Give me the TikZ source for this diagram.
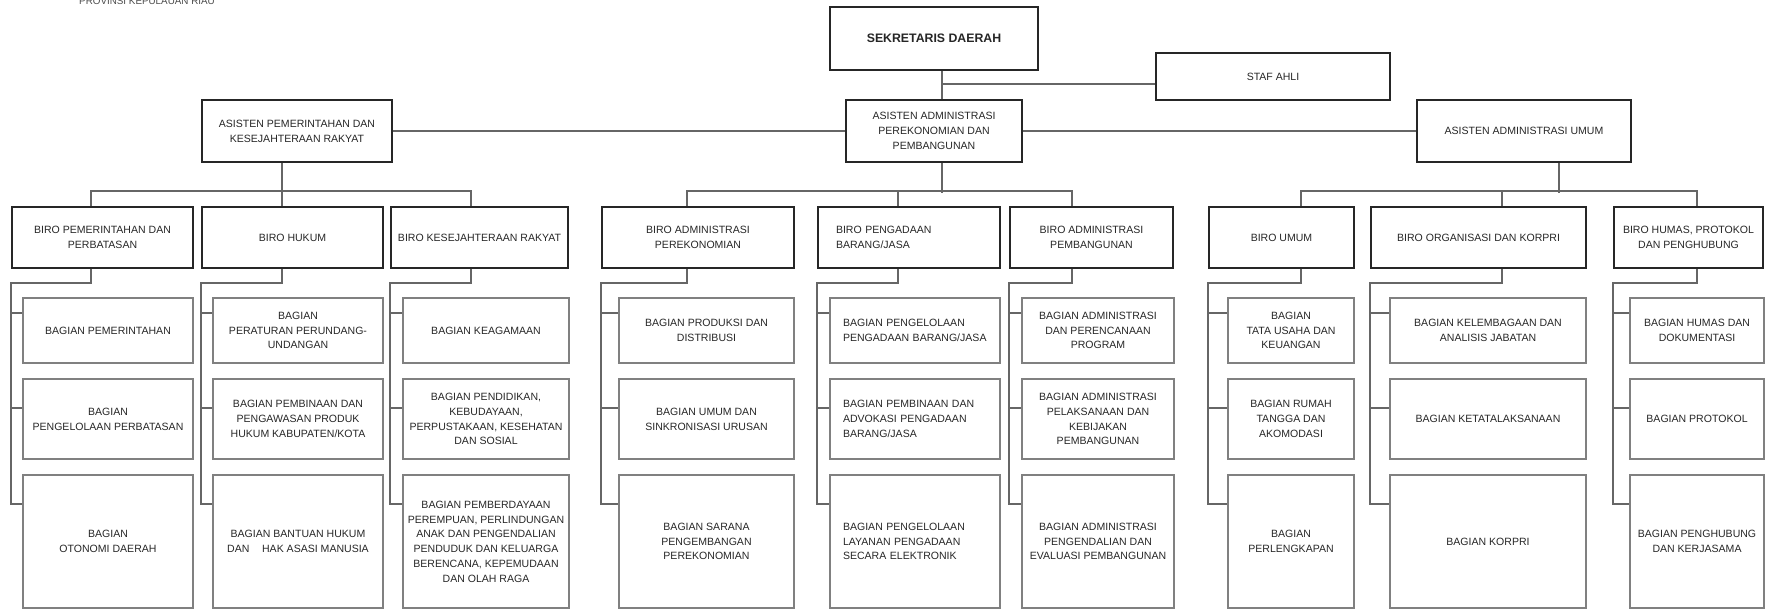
\documentclass[tikz,border=0pt]{standalone}
\usepackage{fontspec}
\setmainfont{Liberation Sans}
\usetikzlibrary{calc}

\begin{document}
\begin{tikzpicture}[x=0.02cm,y=-0.02cm,
  box/.style={draw=black!85,line width=1.1pt,inner sep=0pt,align=center,text=black!85,font=\fontsize{6}{8.4}\selectfont},
  biro/.style={box,minimum height=1.22cm},
  bag/.style={draw=black!50,line width=0.7pt,inner sep=0pt,align=center,text=black!85,font=\fontsize{6}{8.4}\selectfont},
  bagA/.style={bag,minimum height=1.3cm},
  bagB/.style={bag,minimum height=1.6cm},
  bagC/.style={bag,minimum height=2.66cm},
  link/.style={draw=black!60,line width=0.7pt}]
\useasboundingbox (0,0) rectangle (1773,610);
\node[text=black!70,font=\fontsize{5.6}{6}\selectfont] (T) at (147,1) {PROVINSI KEPULAUAN RIAU};

% pimpinan
\node[box,minimum width=4.16cm,minimum height=1.26cm,font=\fontsize{7}{8}\selectfont\bfseries] (S) at (934,38.5) {SEKRETARIS DAERAH};
\node[box,minimum width=4.68cm,minimum height=0.94cm] (SA) at (1273,76.5) {STAF AHLI};
\node[box,minimum width=3.8cm,minimum height=1.24cm] (A1) at (297,131) {ASISTEN PEMERINTAHAN DAN\\KESEJAHTERAAN RAKYAT};
\node[box,minimum width=3.52cm,minimum height=1.24cm] (A2) at (934,131) {ASISTEN ADMINISTRASI\\PEREKONOMIAN DAN\\PEMBANGUNAN};
\node[box,minimum width=4.28cm,minimum height=1.24cm] (A3) at (1524,131) {ASISTEN ADMINISTRASI UMUM};

% biro
\node[biro,minimum width=3.62cm] (B1) at (102.5,237.5) {BIRO PEMERINTAHAN DAN\\PERBATASAN};
\node[biro,minimum width=3.62cm] (B2) at (292.5,237.5) {BIRO HUKUM};
\node[biro,minimum width=3.54cm] (B3) at (479.5,237.5) {BIRO KESEJAHTERAAN RAKYAT};
\node[biro,minimum width=3.84cm] (B4) at (698,237.5) {BIRO ADMINISTRASI\\PEREKONOMIAN};
\node[biro,minimum width=3.64cm,align=left,text width=2.92cm] (B5) at (909,237.5) {BIRO PENGADAAN\\BARANG/JASA};
\node[biro,minimum width=3.26cm] (B6) at (1091.5,237.5) {BIRO ADMINISTRASI\\PEMBANGUNAN};
\node[biro,minimum width=2.9cm] (B7) at (1281.5,237.5) {BIRO UMUM};
\node[biro,minimum width=4.3cm] (B8) at (1478.5,237.5) {BIRO ORGANISASI DAN KORPRI};
\node[biro,minimum width=2.98cm] (B9) at (1688.5,237.5) {BIRO HUMAS, PROTOKOL\\DAN PENGHUBUNG};

% bagian
\node[bagA,minimum width=3.4cm] (B1a) at (108,330.5) {BAGIAN PEMERINTAHAN};
\node[bagB,minimum width=3.4cm] (B1b) at (108,419) {BAGIAN\\PENGELOLAAN PERBATASAN};
\node[bagC,minimum width=3.4cm] (B1c) at (108,541.5) {BAGIAN\\OTONOMI DAERAH};
\node[bagA,minimum width=3.4cm] (B2a) at (298,330.5) {BAGIAN\\PERATURAN PERUNDANG-\\UNDANGAN};
\node[bagB,minimum width=3.4cm] (B2b) at (298,419) {BAGIAN PEMBINAAN DAN\\PENGAWASAN PRODUK\\HUKUM KABUPATEN/KOTA};
\node[bagC,minimum width=3.4cm] (B2c) at (298,541.5) {BAGIAN BANTUAN HUKUM\\DAN\hspace{1.2em}HAK ASASI MANUSIA};
\node[bagA,minimum width=3.32cm] (B3a) at (486,330.5) {BAGIAN KEAGAMAAN};
\node[bagB,minimum width=3.32cm] (B3b) at (486,419) {BAGIAN PENDIDIKAN,\\KEBUDAYAAN,\\PERPUSTAKAAN, KESEHATAN\\DAN SOSIAL};
\node[bagC,minimum width=3.32cm] (B3c) at (486,541.5) {BAGIAN PEMBERDAYAAN\\PEREMPUAN, PERLINDUNGAN\\ANAK DAN PENGENDALIAN\\PENDUDUK DAN KELUARGA\\BERENCANA, KEPEMUDAAN\\DAN OLAH RAGA};
\node[bagA,minimum width=3.5cm] (B4a) at (706.5,330.5) {BAGIAN PRODUKSI DAN\\DISTRIBUSI};
\node[bagB,minimum width=3.5cm] (B4b) at (706.5,419) {BAGIAN UMUM DAN\\SINKRONISASI URUSAN};
\node[bagC,minimum width=3.5cm] (B4c) at (706.5,541.5) {BAGIAN SARANA\\PENGEMBANGAN\\PEREKONOMIAN};
\node[bagA,minimum width=3.4cm,align=left,text width=2.88cm] (B5a) at (915,330.5) {BAGIAN PENGELOLAAN\\PENGADAAN BARANG/JASA};
\node[bagB,minimum width=3.4cm,align=left,text width=2.88cm] (B5b) at (915,419) {BAGIAN PEMBINAAN DAN\\ADVOKASI PENGADAAN\\BARANG/JASA};
\node[bagC,minimum width=3.4cm,align=left,text width=2.88cm] (B5c) at (915,541.5) {BAGIAN PENGELOLAAN\\LAYANAN PENGADAAN\\SECARA ELEKTRONIK};
\node[bagA,minimum width=3.04cm] (B6a) at (1098,330.5) {BAGIAN ADMINISTRASI\\DAN PERENCANAAN\\PROGRAM};
\node[bagB,minimum width=3.04cm] (B6b) at (1098,419) {BAGIAN ADMINISTRASI\\PELAKSANAAN DAN\\KEBIJAKAN\\PEMBANGUNAN};
\node[bagC,minimum width=3.04cm] (B6c) at (1098,541.5) {BAGIAN ADMINISTRASI\\PENGENDALIAN DAN\\EVALUASI PEMBANGUNAN};
\node[bagA,minimum width=2.52cm] (B7a) at (1291,330.5) {BAGIAN\\TATA USAHA DAN\\KEUANGAN};
\node[bagB,minimum width=2.52cm] (B7b) at (1291,419) {BAGIAN RUMAH\\TANGGA DAN\\AKOMODASI};
\node[bagC,minimum width=2.52cm] (B7c) at (1291,541.5) {BAGIAN\\PERLENGKAPAN};
\node[bagA,minimum width=3.92cm] (B8a) at (1488,330.5) {BAGIAN KELEMBAGAAN DAN\\ANALISIS JABATAN};
\node[bagB,minimum width=3.92cm] (B8b) at (1488,419) {BAGIAN KETATALAKSANAAN};
\node[bagC,minimum width=3.92cm] (B8c) at (1488,541.5) {BAGIAN KORPRI};
\node[bagA,minimum width=2.68cm] (B9a) at (1697,330.5) {BAGIAN HUMAS DAN\\DOKUMENTASI};
\node[bagB,minimum width=2.68cm] (B9b) at (1697,419) {BAGIAN PROTOKOL};
\node[bagC,minimum width=2.68cm] (B9c) at (1697,541.5) {BAGIAN PENGHUBUNG\\DAN KERJASAMA};

% garis pimpinan
\draw[link] ($(S.south)+(8,0)$) -- ($(A2.north)+(8,0)$);
\draw[link] ($(SA.west)+(0,7.5)$) -| ($(S.south)+(8,0)$);
\draw[link] (A1.east) -- (A2.west);
\draw[link] (A2.east) -- (A3.west);

% garis asisten ke biro
\draw[link] ($(A1.south)+(-15,0)$) -- ++(0,30);
\draw[link] ($(B1.north)+(-11.5,0)$) -- ++(0,-15) -| ($(B3.north)+(-8.5,0)$);
\draw[link] ($(B2.north)+(-10.5,0)$) -- ++(0,-15);
\draw[link] ($(A2.south)+(8,0)$) -- ++(0,30);
\draw[link] ($(B4.north)+(-11,0)$) -- ++(0,-15) -| ($(B6.north)+(-19.5,0)$);
\draw[link] ($(B5.north)+(-11,0)$) -- ++(0,-15);
\draw[link] ($(A3.south)+(35,0)$) -- ++(0,30);
\draw[link] ($(B7.north)+(19.5,0)$) -- ++(0,-15) -| ($(B9.north)+(8.5,0)$);
\draw[link] ($(B8.north)+(23.5,0)$) -- ++(0,-15);

% garis biro ke bagian
\draw[link] ($(B1.south)+(-11.5,0)$) -- ++(0,14) -| ($(B1.west |- B1c.west)+(0,-37.5)$) -- ($(B1c.west)+(0,-37.5)$);
\draw[link] ($(B1.west |- B1a.west)+(0,-17.5)$) -- ($(B1a.west)+(0,-17.5)$);
\draw[link] ($(B1.west |- B1b.west)+(0,-11)$) -- ($(B1b.west)+(0,-11)$);
\draw[link] ($(B2.south)+(-10.5,0)$) -- ++(0,14) -| ($(B2.west |- B2c.west)+(0,-37.5)$) -- ($(B2c.west)+(0,-37.5)$);
\draw[link] ($(B2.west |- B2a.west)+(0,-17.5)$) -- ($(B2a.west)+(0,-17.5)$);
\draw[link] ($(B2.west |- B2b.west)+(0,-11)$) -- ($(B2b.west)+(0,-11)$);
\draw[link] ($(B3.south)+(-8.5,0)$) -- ++(0,14) -| ($(B3.west |- B3c.west)+(0,-37.5)$) -- ($(B3c.west)+(0,-37.5)$);
\draw[link] ($(B3.west |- B3a.west)+(0,-17.5)$) -- ($(B3a.west)+(0,-17.5)$);
\draw[link] ($(B3.west |- B3b.west)+(0,-11)$) -- ($(B3b.west)+(0,-11)$);
\draw[link] ($(B4.south)+(-11,0)$) -- ++(0,14) -| ($(B4.west |- B4c.west)+(0,-37.5)$) -- ($(B4c.west)+(0,-37.5)$);
\draw[link] ($(B4.west |- B4a.west)+(0,-17.5)$) -- ($(B4a.west)+(0,-17.5)$);
\draw[link] ($(B4.west |- B4b.west)+(0,-11)$) -- ($(B4b.west)+(0,-11)$);
\draw[link] ($(B5.south)+(-11,0)$) -- ++(0,14) -| ($(B5.west |- B5c.west)+(0,-37.5)$) -- ($(B5c.west)+(0,-37.5)$);
\draw[link] ($(B5.west |- B5a.west)+(0,-17.5)$) -- ($(B5a.west)+(0,-17.5)$);
\draw[link] ($(B5.west |- B5b.west)+(0,-11)$) -- ($(B5b.west)+(0,-11)$);
\draw[link] ($(B6.south)+(-19.5,0)$) -- ++(0,14) -| ($(B6.west |- B6c.west)+(0,-37.5)$) -- ($(B6c.west)+(0,-37.5)$);
\draw[link] ($(B6.west |- B6a.west)+(0,-17.5)$) -- ($(B6a.west)+(0,-17.5)$);
\draw[link] ($(B6.west |- B6b.west)+(0,-11)$) -- ($(B6b.west)+(0,-11)$);
\draw[link] ($(B7.south)+(19.5,0)$) -- ++(0,14) -| ($(B7.west |- B7c.west)+(0,-37.5)$) -- ($(B7c.west)+(0,-37.5)$);
\draw[link] ($(B7.west |- B7a.west)+(0,-17.5)$) -- ($(B7a.west)+(0,-17.5)$);
\draw[link] ($(B7.west |- B7b.west)+(0,-11)$) -- ($(B7b.west)+(0,-11)$);
\draw[link] ($(B8.south)+(23.5,0)$) -- ++(0,14) -| ($(B8.west |- B8c.west)+(0,-37.5)$) -- ($(B8c.west)+(0,-37.5)$);
\draw[link] ($(B8.west |- B8a.west)+(0,-17.5)$) -- ($(B8a.west)+(0,-17.5)$);
\draw[link] ($(B8.west |- B8b.west)+(0,-11)$) -- ($(B8b.west)+(0,-11)$);
\draw[link] ($(B9.south)+(8.5,0)$) -- ++(0,14) -| ($(B9.west |- B9c.west)+(0,-37.5)$) -- ($(B9c.west)+(0,-37.5)$);
\draw[link] ($(B9.west |- B9a.west)+(0,-17.5)$) -- ($(B9a.west)+(0,-17.5)$);
\draw[link] ($(B9.west |- B9b.west)+(0,-11)$) -- ($(B9b.west)+(0,-11)$);
\end{tikzpicture}
\end{document}
